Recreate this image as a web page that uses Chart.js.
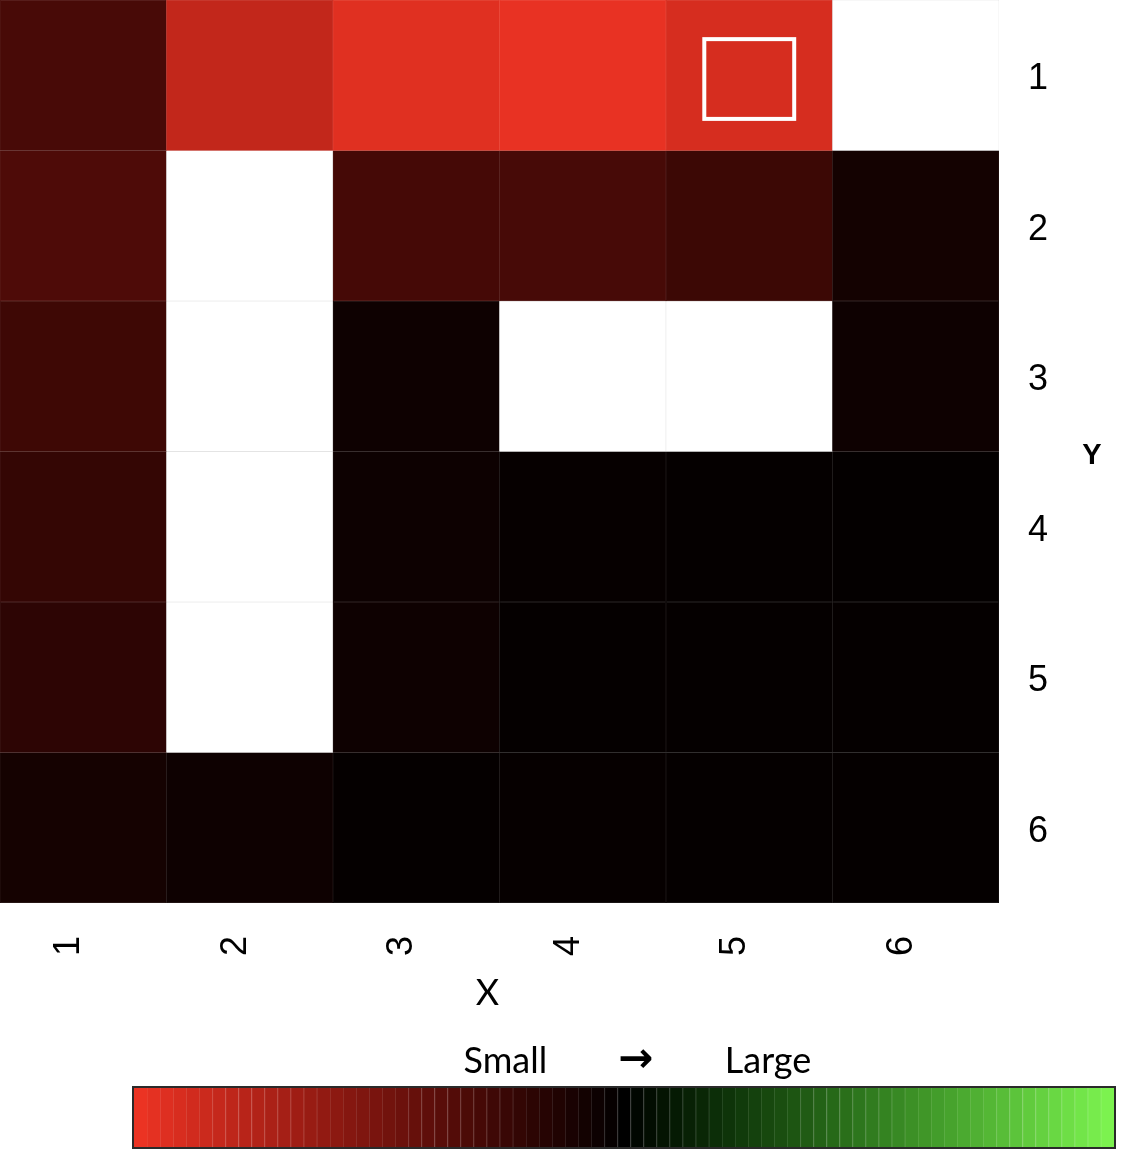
<!DOCTYPE html>
<html>
<head>
<meta charset="utf-8">
<script src="https://cdn.jsdelivr.net/npm/chart.js@4.4.1/dist/chart.umd.min.js"></script>
<style>
    body { margin: 0; background: #ffffff; }
    #boxMapa { position: relative; width: 1124px; height: 1010px; }
    #boxEscala { position: relative; width: 1124px; height: 142px; }
</style>
</head>
<body>
<div id="boxMapa"><canvas id="graficoMapa"></canvas></div>
<div id="boxEscala"><canvas id="graficoEscala"></canvas></div>
<script>
// Eixos
const xLabels = ['1', '2', '3', '4', '5', '6'];
const yLabels = ['1', '2', '3', '4', '5', '6'];

// Valores por linha (0 = pequeno/vermelho, 0.5 = preto, 1 = grande/verde), null = sem dado
const row1 = [0.349, 0.092, 0.029, 0.013, 0.050, null];
const row2 = [0.336, null, 0.355, 0.351, 0.374, 0.458];
const row3 = [0.370, null, 0.471, null, null, 0.471];
const row4 = [0.391, null, 0.473, 0.487, 0.490, 0.492];
const row5 = [0.405, null, 0.471, 0.490, 0.490, 0.490];
const row6 = [0.455, 0.471, 0.490, 0.487, 0.490, 0.490];
const rows = [row1, row2, row3, row4, row5, row6];

// Celula destacada (x, y)
const highlightCell = ['5', '1'];

// Escala de cores
const colorLow = [238, 52, 36];
const colorHigh = [126, 245, 80];
const scaleSteps = 75;
const scaleTexts = ['Small', '\u2192', 'Large'];

const fonteTicks = 'Liberation Sans';
const fonteTitulo = "Lato, 'Open Sans', sans-serif";

function corEscala(v) {
    // intensidade: 1 nas pontas, 0 no meio (preto)
    const ponta = v <= 0.5 ? colorLow : colorHigh;
    const s = Math.abs(v - 0.5) / 0.5;
    const dominante = ponta.indexOf(Math.max(...ponta));
    return ponta.map((c, i) => c * Math.pow(s, i === dominante ? 1 : 1.4));
}

function rgb(c) {
    return `rgb(${c.map(Math.round).join(',')})`;
}

function clarear(c, f) {
    return c.map(x => x + (255 - x) * f);
}

// Barras empilhadas: cada linha do mapa e um dataset
const datasets = rows.map((row, i) => ({
    label: yLabels[i],
    data: xLabels.map(() => 1),
    backgroundColor: row.map(v => v === null ? '#ffffff' : rgb(corEscala(v))),
    borderColor: row.map(v => v === null ? '#d4d4d4' : rgb(clarear(corEscala(v), 0.1))),
    borderWidth: 0.5,
    borderSkipped: false,
    barPercentage: 1,
    categoryPercentage: 1,
    stack: 'grade'
}));

const pluginMapa = {
    id: 'extrasMapa',
    afterDatasetsDraw(chart) {
        const ctx = chart.ctx;
        const xi = xLabels.indexOf(highlightCell[0]);
        const yi = yLabels.indexOf(highlightCell[1]);
        const bar = chart.getDatasetMeta(yi).data[xi];
        const p = bar.getProps(['x', 'y', 'base', 'width'], true);
        const h = Math.abs(p.base - p.y);
        const cy = (p.base + p.y) / 2 + h * 0.025;
        ctx.save();
        ctx.strokeStyle = '#ffffff';
        ctx.lineWidth = 4;
        ctx.strokeRect(p.x - p.width * 0.27, cy - h * 0.265, p.width * 0.54, h * 0.53);
        ctx.restore();
    },
    afterDraw(chart) {
        const ctx = chart.ctx;
        const area = chart.chartArea;
        ctx.save();
        ctx.fillStyle = '#000000';
        ctx.textAlign = 'center';
        ctx.textBaseline = 'middle';
        ctx.font = `36px ${fonteTitulo}`;
        ctx.fillText('X', (area.left + area.right) / 2 - 12, area.bottom + 90);
        ctx.font = `bold 29px "${fonteTicks}"`;
        ctx.fillText('Y', area.right + 93, (area.top + area.bottom) / 2 + 4);
        ctx.restore();
    }
};

new Chart(document.getElementById('graficoMapa').getContext('2d'), {
    type: 'bar',
    data: { labels: xLabels, datasets: datasets },
    options: {
        responsive: true,
        maintainAspectRatio: false,
        animation: false,
        layout: { padding: 0 },
        plugins: {
            legend: { display: false },
            tooltip: { enabled: false },
            title: { display: false }
        },
        scales: {
            x: {
                type: 'category',
                stacked: true,
                grid: { display: false, drawTicks: false },
                border: { display: false },
                ticks: {
                    color: '#000000',
                    font: { family: fonteTicks, size: 36 },
                    minRotation: 90,
                    maxRotation: 90,
                    autoSkip: false,
                    padding: 33,
                    labelOffset: -14
                },
                afterFit: s => {
                    s.height = 107;
                    s.paddingLeft = 0;
                    s.paddingRight = 0;
                }
            },
            y: {
                type: 'linear',
                position: 'right',
                stacked: true,
                reverse: true,
                min: 0,
                max: yLabels.length,
                grid: { display: false, drawTicks: false },
                border: { display: false },
                afterBuildTicks: s => { s.ticks = yLabels.map((l, i) => ({ value: i + 0.5 })); },
                ticks: {
                    color: '#000000',
                    font: { family: fonteTicks, size: 36 },
                    padding: 29,
                    labelOffset: 4,
                    callback: (v, i) => yLabels[i]
                },
                afterFit: s => {
                    s.width = 125;
                    s.paddingTop = 0;
                    s.paddingBottom = 0;
                }
            }
        }
    },
    plugins: [pluginMapa]
});

// Barra de cores (legenda)
const faixas = [];
for (let i = 0; i < scaleSteps; i++) {
    const cor = corEscala((i + 0.5) / scaleSteps);
    faixas.push({
        data: [1],
        backgroundColor: rgb(cor),
        borderColor: rgb(clarear(cor, 0.14)),
        borderWidth: { left: i === 0 ? 0 : 1, right: 0, top: 0, bottom: 0 },
        borderSkipped: false,
        barPercentage: 1,
        categoryPercentage: 1,
        stack: 'escala'
    });
}

const pluginEscala = {
    id: 'extrasEscala',
    afterDraw(chart) {
        const ctx = chart.ctx;
        const area = chart.chartArea;
        const xs = chart.scales.x;
        ctx.save();
        ctx.strokeStyle = '#2a2a2a';
        ctx.lineWidth = 2;
        ctx.strokeRect(area.left - 1, area.top - 1, area.right - area.left + 2, area.bottom - area.top + 2);
        ctx.fillStyle = '#000000';
        ctx.textAlign = 'center';
        ctx.textBaseline = 'middle';
        const posicoes = [0.379, 0.512, 0.647];
        scaleTexts.forEach((t, i) => {
            ctx.font = i === 1 ? `bold 42px 'DejaVu Sans', sans-serif` : `36px ${fonteTitulo}`;
            ctx.fillText(t, xs.getPixelForValue(scaleSteps * posicoes[i]), area.top - 27);
        });
        ctx.restore();
    }
};

new Chart(document.getElementById('graficoEscala').getContext('2d'), {
    type: 'bar',
    data: { labels: ['escala'], datasets: faixas },
    options: {
        indexAxis: 'y',
        responsive: true,
        maintainAspectRatio: false,
        animation: false,
        layout: { padding: { left: 134, right: 10, top: 78, bottom: 5 } },
        plugins: {
            legend: { display: false },
            tooltip: { enabled: false }
        },
        scales: {
            x: { type: 'linear', stacked: true, min: 0, max: scaleSteps, display: false },
            y: { stacked: true, display: false }
        }
    },
    plugins: [pluginEscala]
});
</script>
</body>
</html>
